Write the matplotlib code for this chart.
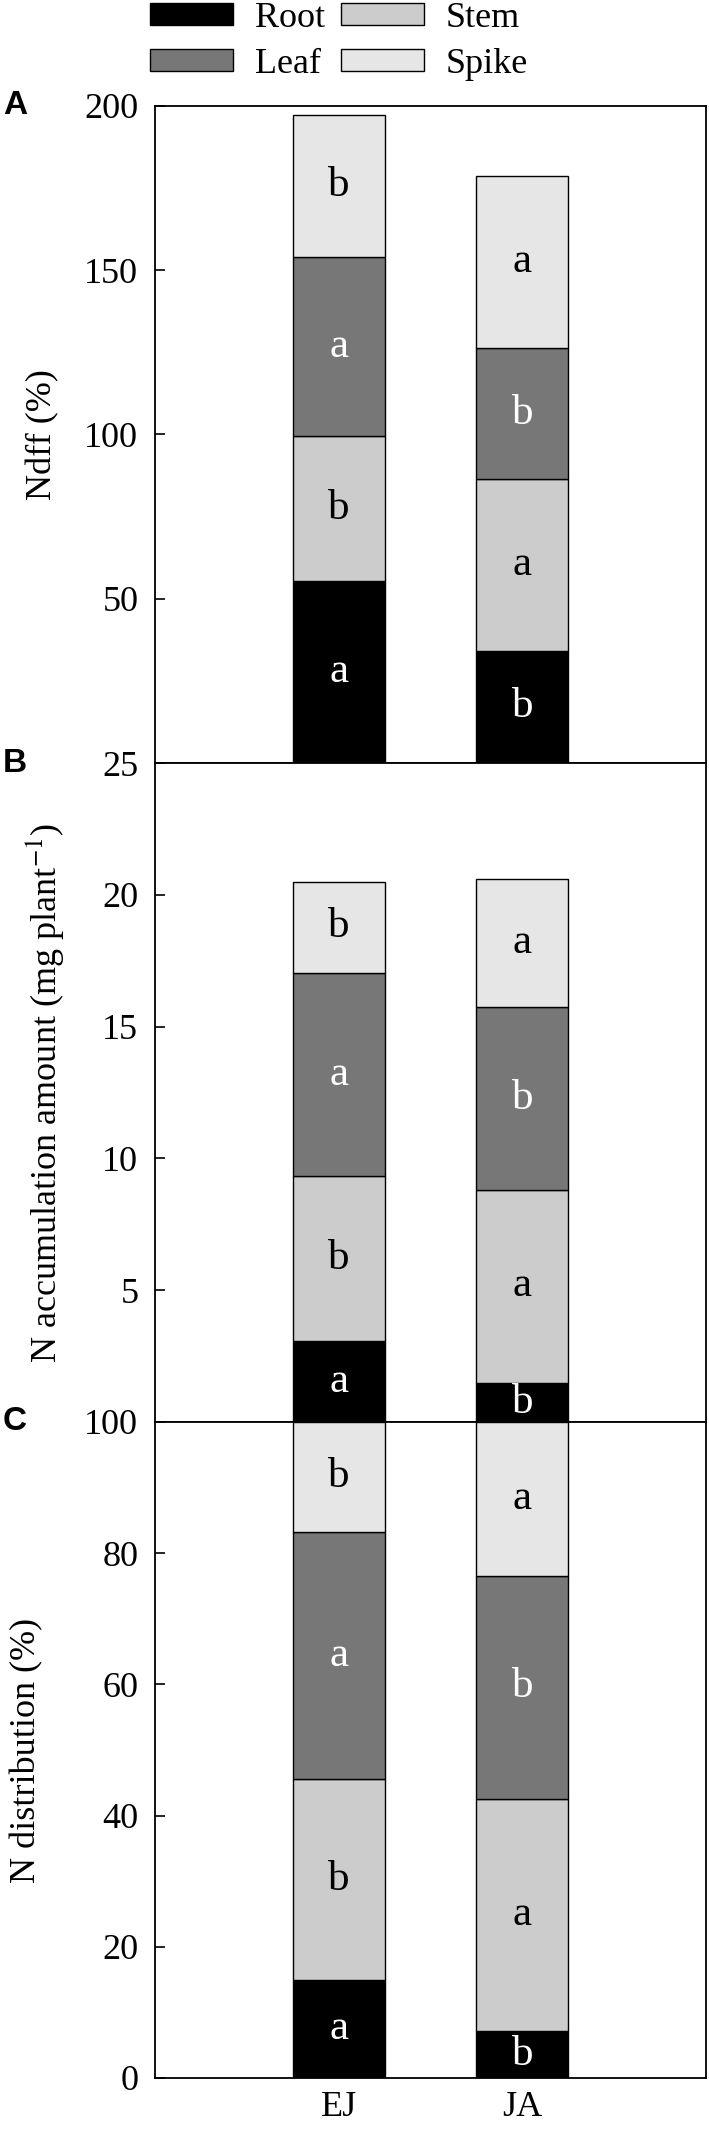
import matplotlib
matplotlib.use('Agg')
import matplotlib.pyplot as plt
import numpy as np
from matplotlib.patches import Patch

plt.rcParams['font.family'] = ['Liberation Serif', 'DejaVu Serif']
plt.rcParams['mathtext.fontset'] = 'stix'

groups = ['EJ', 'JA']
organs = ['Root', 'Stem', 'Leaf', 'Spike']
organ_colors = ['#000000', '#cccccc', '#777777', '#e6e6e6']
text_colors = ['white', 'black', 'white', 'black']

# Ndff (%) per organ, EJ / JA
ndff_root = [55.4, 34.1]
ndff_stem = [44.1, 52.3]
ndff_leaf = [54.4, 39.8]
ndff_spike = [43.2, 52.5]

# N accumulation amount (mg plant-1)
accum_root = [3.07, 1.48]
accum_stem = [6.26, 7.34]
accum_leaf = [7.72, 6.92]
accum_spike = [3.44, 4.87]

# N distribution (%)
dist_root = [14.9, 7.1]
dist_stem = [30.7, 35.5]
dist_leaf = [37.6, 34.0]
dist_spike = [16.8, 23.4]

# significance letters, same in every panel
letters_root = ['a', 'b']
letters_stem = ['b', 'a']
letters_leaf = ['a', 'b']
letters_spike = ['b', 'a']

panels = [
    ('A', 'Ndff (%)', [ndff_root, ndff_stem, ndff_leaf, ndff_spike], 200, [50, 100, 150, 200]),
    ('B', 'N accumulation amount (mg plant$^{-1}$)',
     [accum_root, accum_stem, accum_leaf, accum_spike], 25, [5, 10, 15, 20, 25]),
    ('C', 'N distribution (%)', [dist_root, dist_stem, dist_leaf, dist_spike], 100,
     [0, 20, 40, 60, 80, 100]),
]
letters = [letters_root, letters_stem, letters_leaf, letters_spike]

W, H = 709, 2133
fig = plt.figure(figsize=(W / 100, H / 100), dpi=100)

left = 155 / W
width = 551 / W
tops = [105.7, 763, 1422]
bottoms = [763, 1422, 2078]
label_x = [-0.203, -0.200, -0.232]

x = np.arange(1, len(groups) + 1)
for i, (tag, ylabel, series, ymax, ticks) in enumerate(panels):
    y0 = 1 - bottoms[i] / H
    h = (bottoms[i] - tops[i]) / H
    ax = fig.add_axes([left, y0, width, h])
    base = np.zeros(len(groups))
    for k, vals in enumerate(series):
        vals = np.array(vals)
        ax.bar(x, vals, 0.5, bottom=base, color=organ_colors[k],
               edgecolor='black', linewidth=1.0, zorder=2)
        for j in range(len(groups)):
            ax.text(x[j], base[j] + vals[j] / 2, letters[k][j], ha='center',
                    va='center', fontsize=31, color=text_colors[k],
                    zorder=3, clip_on=False)
        base = base + vals
    ax.set_xlim(0, 3)
    ax.set_ylim(0, ymax)
    ax.set_yticks(ticks)
    ax.tick_params(axis='y', direction='in', length=7, width=1.2,
                   labelsize=26, pad=12)
    ax.set_ylabel(ylabel, fontsize=26, va='center')
    ax.yaxis.set_label_coords(label_x[i], 0.5)
    if i == 2:
        ax.set_xticks(x)
        ax.set_xticklabels(groups)
        ax.tick_params(axis='x', length=0, labelsize=26, pad=9)
    else:
        ax.set_xticks([])
    for sp in ax.spines.values():
        sp.set_linewidth(1.3)
        sp.set_zorder(4)
    fig.text(3 / W, 1 - tops[i] / H, tag, fontsize=24, fontweight='bold',
             family='Liberation Sans', ha='left', va='center')

handles = [Patch(facecolor=organ_colors[k], edgecolor='black', linewidth=1.0)
           for k in [0, 2, 1, 3]]
labels = [organs[k] for k in [0, 2, 1, 3]]
fig.legend(handles, labels, ncol=2, loc='upper left',
           bbox_to_anchor=(150 / W, 1 - 2 / H), frameon=False, fontsize=26,
           handlelength=2.3, handleheight=0.55, handletextpad=0.6,
           columnspacing=0.45, labelspacing=0.35, borderpad=0, borderaxespad=0)

fig.savefig('out.png', dpi=100)
